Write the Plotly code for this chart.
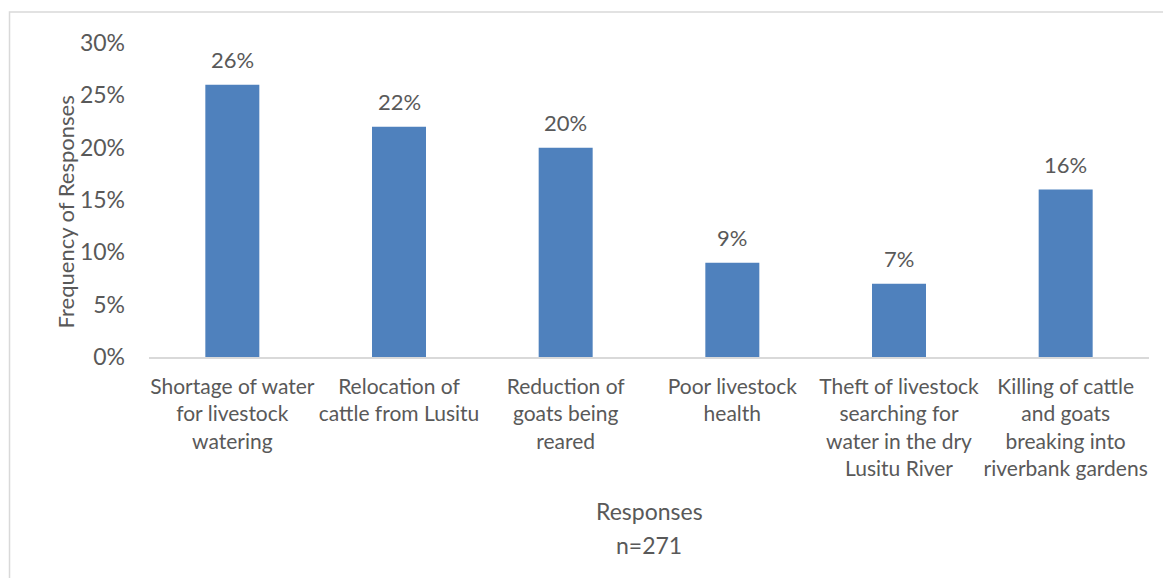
import plotly.graph_objects as go

categories = [
    "Shortage of water<br>for livestock<br>watering",
    "Relocation of<br>cattle from Lusitu",
    "Reduction of<br>goats being<br>reared",
    "Poor livestock<br>health",
    "Theft of livestock<br>searching for<br>water in the dry<br>Lusitu River",
    "Killing of cattle<br>and goats<br>breaking into<br>riverbank gardens",
]
shares = [0.26, 0.22, 0.20, 0.09, 0.07, 0.16]
y_ticks = [0, 0.05, 0.10, 0.15, 0.20, 0.25, 0.30]
y_tick_labels = ["0%", "5%", "10%", "15%", "20%", "25%", "30%"]
x_title_lines = ["Responses", "n=271"]
y_title = "Frequency of Responses"

W, H = 1163, 578
L, R, T, B = 148.6, 13.6, 43, 221
pw, ph = W - L - R, H - T - B

text_color = "#595959"
font_family = "Lato, Open Sans, sans-serif"

fig = go.Figure(
    go.Bar(
        x=categories,
        y=shares,
        marker=dict(color="#4f81bd", line=dict(width=0)),
        width=0.324,
        hoverinfo="x+y",
    )
)

# value labels above each bar
for cat, v in zip(categories, shares):
    fig.add_annotation(
        x=cat, y=v, xref="x", yref="y",
        text=f"{round(v * 100)}%",
        showarrow=False,
        yanchor="middle",
        yshift=25,
        font=dict(size=22, color=text_color, family=font_family),
    )

# axis title below the category labels, two lines
for line, ypx in zip(x_title_lines, [511, 545]):
    fig.add_annotation(
        x=0.5, y=1 - (ypx - T) / ph, xref="paper", yref="paper",
        text=line, showarrow=False,
        xanchor="center", yanchor="middle",
        font=dict(size=23, color=text_color, family=font_family),
    )

# vertical axis title
fig.add_annotation(
    x=(65 - L) / pw, y=1 - (212 - T) / ph, xref="paper", yref="paper",
    text=y_title, textangle=-90, showarrow=False,
    xanchor="center", yanchor="middle",
    font=dict(size=22, color=text_color, family=font_family),
)

# outer chart border
fig.add_shape(
    type="rect",
    xref="paper", yref="paper",
    x0=(9 - L) / pw, x1=(W + 20 - L) / pw,
    y0=-(H + 20 - T - ph) / ph, y1=1 + (T - 12) / ph,
    line=dict(color="#d9d9d9", width=1.5),
    fillcolor="rgba(0,0,0,0)",
    layer="below",
)

fig.update_layout(
    width=W, height=H,
    margin=dict(l=L, r=R, t=T, b=B, pad=0),
    paper_bgcolor="white",
    plot_bgcolor="white",
    showlegend=False,
    font=dict(family=font_family, color=text_color, size=21),
    xaxis=dict(
        showgrid=False,
        showline=True,
        linecolor="#d9d9d9",
        linewidth=1.5,
        ticks="",
        tickfont=dict(size=21),
        ticklabelstandoff=10,
        fixedrange=True,
    ),
    yaxis=dict(
        range=[0, 0.30],
        tickvals=y_ticks,
        ticktext=y_tick_labels,
        showgrid=False,
        zeroline=False,
        showline=False,
        ticks="",
        ticklabelstandoff=23,
        tickfont=dict(size=23),
        fixedrange=True,
    ),
    bargap=0.676,
)

fig.write_html("out.html")
